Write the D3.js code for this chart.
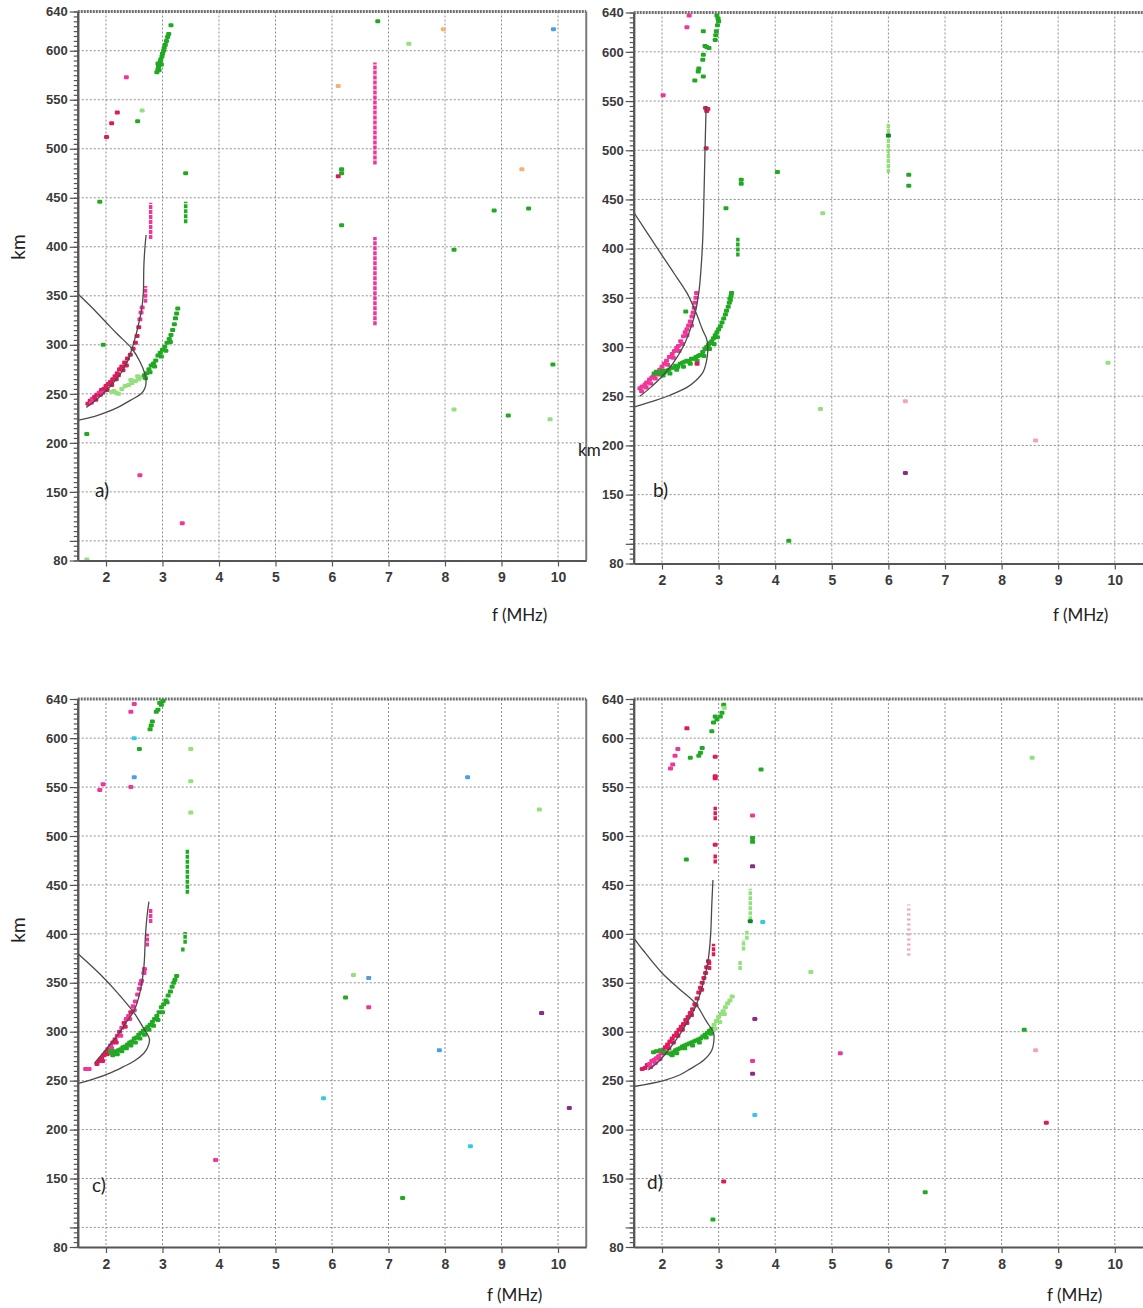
<!DOCTYPE html>
<html>
<head>
<meta charset="utf-8">
<script src="https://cdn.jsdelivr.net/npm/d3@7"></script>
<style>
	body { margin: 0; background: #fff; }
	svg { display: block; }
	.num { font-family: "Liberation Sans", Arial, sans-serif; font-weight: bold; fill: #3a3a3a; }
	.cap { font-family: Lato, "Open Sans", sans-serif; fill: #222; }
</style>
</head>
<body>
<div id="chart"></div>
<script>

// ---- data (f in MHz, height in km) ----
const fTicks = [2, 3, 4, 5, 6, 7, 8, 9, 10];
const kmLabels = [80, 150, 200, 250, 300, 350, 400, 450, 500, 550, 600, 640];
const kmGrid = [100, 150, 200, 250, 300, 350, 400, 450, 500, 550, 600];

// colour keys used by the echo points
const echoColors = {
	r: "#e01a5a", p: "#f0369a", g: "#1faa22", lg: "#93e07c", dg: "#15802a",
	c: "#36c9e6", b: "#4c9fe2", o: "#f3b27c", v: "#8a2d8a", lp: "#f4a2bd"
};

// panel a
const modelA = [[1.65,236],[1.85,245],[2.08,258],[2.25,270],[2.38,283],[2.46,296],[2.53,310],[2.58,322],[2.63,336],[2.66,352],[2.67,380],[2.69,400],[2.71,412]];
const profileA = [[1.5,352],[1.75,338],[2.0,323],[2.2,311],[2.46,296],[2.6,283],[2.69,270],[2.71,263],[2.69,256],[2.62,250],[2.45,244],[2.2,236],[2.0,231],[1.8,227],[1.5,223]];
const dotsA = [
	[1.68,240,"r"],[1.72,243,"r"],[1.76,245,"p"],[1.80,247,"r"],[1.84,249,"r"],[1.88,251,"p"],[1.92,254,"r"],[1.96,255,"r"],[2.00,258,"r"],[2.04,260,"r"],
	[2.08,262,"r"],[2.12,265,"r"],[2.16,268,"r"],[2.20,271,"r"],[2.24,275,"r"],[2.28,278,"r"],[2.33,282,"r"],[2.38,286,"r"],[2.43,290,"r"],[2.48,296,"r"],
	[2.52,302,"r"],[2.55,309,"r"],[2.58,318,"r"],[2.60,326,"p"],[2.62,333,"p"],[2.64,338,"p"],
	[1.74,241,"p"],[1.82,244,"r"],[1.90,249,"r"],[1.94,251,"p"],[2.02,254,"r"],[2.10,259,"r"],[2.18,265,"r"],[2.22,269,"r"],[2.30,274,"r"],[2.36,279,"r"],
	[2.10,252,"lg"],[2.14,253,"lg"],[2.18,251,"lg"],[2.22,250,"lg"],[2.28,255,"lg"],[2.34,258,"lg"],[2.40,259,"lg"],[2.46,261,"lg"],[2.52,263,"lg"],[2.58,265,"lg"],
	[2.63,267,"lg"],[2.68,269,"g"],[2.72,271,"g"],[2.76,275,"g"],[2.80,279,"g"],[2.84,281,"g"],[2.88,284,"g"],[2.92,289,"g"],[2.96,292,"g"],[3.00,295,"g"],
	[3.04,298,"g"],[3.08,302,"g"],[3.12,306,"g"],[3.15,310,"g"],[3.18,315,"g"],[3.21,321,"g"],[3.23,327,"g"],[3.25,332,"g"],[3.27,337,"g"],
	[2.44,264,"lg"],[2.56,268,"lg"],[2.70,266,"g"],[2.78,272,"g"],[2.86,278,"g"],[2.98,288,"g"],[3.06,294,"g"],[3.14,303,"g"],
	[2.90,578,"g"],[2.92,581,"g"],[2.93,584,"g"],[2.95,586,"g"],[2.96,589,"g"],[2.97,591,"g"],[2.99,594,"g"],[3.00,597,"g"],[3.02,600,"g"],[3.03,603,"g"],
	[3.05,606,"g"],[3.07,610,"g"],[3.09,614,"g"],[3.11,617,"g"],[3.15,626,"g"],[2.94,580,"g"],[2.98,586,"g"],[2.92,587,"g"],
	[2.36,573,"p"],[2.20,537,"r"],[2.10,526,"r"],[2.01,512,"r"],[2.64,539,"lg"],[2.56,528,"g"],[1.89,446,"g"],[3.41,475,"g"],
	[1.95,300,"g"],[1.66,209,"g"],[2.60,167,"p"],[3.35,118,"p"],[1.66,81,"lg"],
	[6.81,630,"g"],[7.97,622,"o"],[7.36,607,"lg"],[9.92,622,"b"],[6.11,564,"o"],[6.11,472,"r"],[6.17,479,"g"],[6.17,475,"g"],[6.17,422,"g"],
	[9.36,479,"o"],[8.87,437,"g"],[9.48,439,"g"],[8.16,397,"g"],[8.16,234,"lg"],[9.12,228,"g"],[9.86,224,"lg"],[9.91,280,"g"]
];
const streaksA = [[2.79,408,445,"p"],[2.70,343,360,"p"],[3.41,424,446,"g"],[6.76,484,588,"p"],[6.76,320,410,"p"]];

// panel b
const modelB = [[1.61,250],[1.8,259],[2.0,270],[2.2,284],[2.38,301],[2.5,318],[2.58,333],[2.65,355],[2.69,380],[2.72,410],[2.74,450],[2.76,500],[2.78,545]];
const profileB = [[1.5,437],[1.91,401],[2.2,376],[2.44,355],[2.6,335],[2.72,317],[2.79,308],[2.81,297],[2.78,284],[2.73,275],[2.6,266],[2.44,259],[2.14,251],[1.9,246],[1.5,239]];
const dotsB = [
	[1.61,258,"p"],[1.65,260,"p"],[1.70,262,"p"],[1.73,264,"p"],[1.78,267,"p"],[1.82,269,"p"],[1.85,270,"p"],[1.90,273,"p"],[1.96,277,"p"],[2.00,280,"p"],
	[2.04,283,"p"],[2.08,286,"p"],[2.13,290,"p"],[2.18,293,"p"],[2.22,296,"p"],[2.26,299,"p"],[2.29,301,"p"],[2.33,306,"p"],[2.38,311,"p"],[2.41,315,"p"],
	[2.44,318,"p"],[2.47,322,"p"],[2.50,326,"p"],[2.53,331,"p"],[2.55,335,"p"],[2.57,340,"p"],[2.58,345,"p"],[2.60,350,"p"],[2.61,355,"p"],
	[1.64,255,"p"],[1.72,259,"p"],[1.80,263,"p"],[1.88,268,"p"],[1.94,272,"p"],[2.02,276,"p"],[2.10,282,"p"],[2.20,289,"p"],[2.30,296,"p"],[2.36,303,"p"],
	[2.44,312,"p"],[2.52,322,"p"],
	[1.86,273,"g"],[1.90,275,"g"],[1.96,273,"g"],[2.00,276,"g"],[2.04,274,"g"],[2.08,276,"g"],[2.12,277,"g"],[2.16,279,"g"],[2.20,279,"g"],[2.24,281,"g"],
	[2.28,280,"g"],[2.32,283,"g"],[2.36,284,"g"],[2.40,285,"g"],[2.44,286,"g"],[2.48,285,"g"],[2.52,288,"g"],[2.56,288,"g"],[2.60,290,"g"],[2.64,291,"g"],
	[2.67,292,"g"],[2.72,295,"g"],[2.76,298,"g"],[2.79,300,"g"],[2.82,302,"g"],[2.85,304,"g"],[2.88,306,"g"],[2.91,309,"g"],[2.94,312,"g"],[2.97,315,"g"],
	[3.00,318,"g"],[3.03,321,"g"],[3.06,325,"g"],[3.09,329,"g"],[3.12,333,"g"],[3.14,337,"g"],[3.17,341,"g"],[3.19,345,"g"],[3.20,349,"g"],[3.22,352,"g"],[3.23,355,"g"],
	[2.02,271,"g"],[2.14,273,"g"],[2.26,277,"g"],[2.38,280,"g"],[2.50,283,"g"],[2.62,286,"g"],[2.74,291,"g"],[2.84,298,"g"],[2.92,303,"g"],[2.98,310,"g"],
	[2.62,283,"r"],
	[2.48,637,"p"],[2.44,625,"p"],[2.73,621,"g"],[2.97,637,"g"],[2.99,634,"g"],[3.00,631,"g"],[2.98,627,"g"],[2.96,621,"g"],[2.95,617,"g"],[2.94,612,"g"],
	[2.79,605,"g"],[2.83,604,"g"],[2.76,606,"g"],[2.73,597,"g"],[2.72,592,"g"],[2.65,583,"g"],[2.64,580,"g"],[2.58,571,"g"],[2.73,575,"g"],
	[2.02,556,"p"],[2.77,543,"r"],[2.79,540,"r"],[2.81,542,"r"],[2.78,502,"r"],[3.40,470,"g"],[3.40,466,"g"],[3.13,441,"g"],[4.04,478,"g"],[4.84,436,"lg"],
	[2.42,336,"g"],[4.80,237,"lg"],[4.24,103,"g"],[6.00,515,"dg"],[6.36,475,"g"],[6.36,464,"g"],[6.30,245,"lp"],[8.60,205,"lp"],[6.30,172,"v"],[9.88,284,"lg"]
];
const streaksB = [[3.34,392,411,"g"],[3.22,346,357,"g"],[6.00,477,528,"lg"]];

// panel c
const modelC = [[1.80,268],[2.0,282],[2.2,296],[2.35,309],[2.5,322],[2.6,340],[2.67,366],[2.70,400],[2.73,420],[2.76,433]];
const profileC = [[1.5,380],[1.91,358],[2.2,340],[2.5,319],[2.65,305],[2.77,292],[2.73,283],[2.67,278],[2.5,270],[2.3,264],[2.08,258],[1.8,252],[1.5,247]];
const dotsC = [
	[1.64,262,"p"],[1.70,262,"p"],[1.84,267,"r"],[1.88,270,"r"],[1.92,273,"r"],[1.96,276,"r"],[2.00,279,"r"],[2.04,282,"r"],[2.08,286,"p"],[2.12,289,"r"],
	[2.16,292,"r"],[2.20,296,"p"],[2.24,300,"r"],[2.28,304,"p"],[2.32,309,"r"],[2.36,313,"p"],[2.40,316,"p"],[2.44,320,"r"],[2.48,326,"p"],[2.52,331,"p"],
	[2.56,338,"p"],[2.59,344,"p"],[2.61,349,"p"],[2.63,352,"p"],[2.67,360,"p"],[2.68,364,"p"],
	[1.94,270,"r"],[2.02,277,"r"],[2.10,283,"p"],[2.18,289,"r"],[2.26,296,"p"],[2.34,305,"r"],[2.42,313,"p"],[2.50,322,"p"],
	[2.08,280,"g"],[2.10,278,"g"],[2.14,280,"g"],[2.18,279,"g"],[2.22,281,"g"],[2.26,282,"g"],[2.30,284,"g"],[2.34,285,"g"],[2.38,287,"g"],[2.42,289,"g"],
	[2.46,290,"g"],[2.50,293,"g"],[2.54,294,"g"],[2.58,297,"g"],[2.62,299,"g"],[2.66,301,"g"],[2.70,303,"g"],[2.74,305,"g"],[2.78,307,"g"],[2.82,310,"g"],
	[2.86,313,"g"],[2.90,316,"g"],[2.94,320,"g"],[2.98,325,"g"],[3.02,328,"g"],[3.06,332,"g"],[3.10,337,"g"],[3.14,341,"g"],[3.17,346,"g"],[3.20,350,"g"],
	[3.22,353,"g"],[3.25,357,"g"],
	[2.12,276,"g"],[2.20,277,"g"],[2.28,280,"g"],[2.36,283,"g"],[2.44,286,"g"],[2.52,289,"g"],[2.60,293,"g"],[2.68,297,"g"],[2.76,302,"g"],[2.84,306,"g"],
	[2.92,312,"g"],[3.00,320,"g"],[3.08,330,"g"],
	[2.50,635,"p"],[2.44,627,"p"],[2.95,636,"g"],[3.01,638,"g"],[2.98,634,"g"],[2.92,629,"g"],[2.89,627,"g"],[2.82,617,"g"],[2.80,613,"g"],[2.78,609,"g"],
	[2.50,600,"c"],[2.59,589,"g"],[1.95,553,"p"],[1.89,547,"p"],[2.50,560,"b"],[2.44,550,"p"],[3.50,589,"lg"],[3.50,556,"lg"],[3.50,524,"lg"],
	[3.94,169,"p"],[6.38,358,"lg"],[6.65,355,"b"],[6.24,335,"g"],[6.65,325,"p"],[9.67,527,"lg"],[8.40,560,"b"],[5.85,232,"c"],[7.90,281,"b"],
	[8.45,183,"c"],[9.71,319,"v"],[10.2,222,"v"],[7.25,130,"g"]
];
const streaksC = [[3.44,441,487,"g"],[3.40,390,402,"g"],[3.36,382,387,"g"],[2.79,411,426,"p"],[2.73,387,400,"p"],[2.68,358,365,"p"]];

// panel d
const modelD = [[1.76,261],[1.95,270],[2.15,284],[2.3,296],[2.45,310],[2.58,324],[2.68,340],[2.76,357],[2.82,375],[2.86,400],[2.88,430],[2.90,455]];
const profileD = [[1.5,396],[1.67,383],[2.0,360],[2.3,344],[2.59,329],[2.78,311],[2.91,299],[2.92,294],[2.88,281],[2.74,271],[2.5,262],[2.32,256],[2.03,250],[1.5,244]];
const dotsD = [
	[1.65,262,"r"],[1.70,263,"r"],[1.74,266,"r"],[1.78,267,"p"],[1.82,270,"p"],[1.86,271,"p"],[1.90,273,"p"],[1.94,275,"p"],[1.98,278,"p"],[2.02,281,"r"],
	[2.06,284,"r"],[2.10,287,"r"],[2.14,290,"r"],[2.18,293,"r"],[2.22,296,"r"],[2.26,299,"r"],[2.30,302,"r"],[2.34,305,"r"],[2.38,308,"r"],[2.42,312,"r"],
	[2.46,315,"r"],[2.50,319,"r"],[2.54,323,"r"],[2.58,328,"r"],[2.62,334,"r"],[2.65,340,"r"],[2.68,345,"r"],[2.71,350,"r"],[2.74,355,"r"],[2.77,360,"r"],
	[2.79,366,"r"],[2.82,372,"r"],
	[1.80,264,"p"],[1.88,268,"p"],[1.96,272,"p"],[2.04,278,"r"],[2.12,283,"r"],[2.20,289,"r"],[2.28,296,"r"],[2.36,302,"r"],[2.44,309,"r"],[2.52,317,"r"],
	[2.60,327,"r"],[2.70,343,"r"],
	[1.85,279,"g"],[1.90,280,"g"],[1.97,281,"g"],[2.05,279,"g"],[2.12,278,"g"],[2.16,277,"g"],[2.20,279,"g"],[2.24,281,"g"],[2.28,282,"g"],[2.32,283,"g"],
	[2.36,285,"g"],[2.40,286,"g"],[2.44,287,"g"],[2.48,288,"g"],[2.52,289,"g"],[2.56,290,"g"],[2.60,291,"g"],[2.64,292,"g"],[2.68,293,"g"],[2.72,295,"g"],
	[2.76,297,"g"],[2.80,299,"g"],[2.84,301,"g"],[2.88,303,"g"],[2.92,307,"lg"],[2.96,311,"lg"],[3.00,315,"lg"],[3.04,318,"lg"],[3.08,321,"lg"],[3.12,325,"lg"],
	[3.16,329,"lg"],[3.20,332,"lg"],[3.24,336,"lg"],
	[2.18,276,"g"],[2.26,278,"g"],[2.40,283,"g"],[2.54,286,"g"],[2.66,289,"g"],[2.78,294,"g"],[2.86,298,"g"],[2.94,303,"lg"],[3.02,310,"lg"],[3.10,318,"lg"],
	[2.44,610,"r"],[2.28,589,"p"],[2.23,582,"p"],[2.19,573,"p"],[2.15,569,"p"],[2.50,580,"g"],[2.65,582,"g"],[2.68,585,"g"],[2.71,590,"g"],
	[3.09,634,"g"],[3.06,626,"g"],[3.03,622,"g"],[2.97,619,"g"],[2.91,616,"g"],[2.94,622,"g"],[2.88,607,"g"],[3.10,631,"lg"],
	[2.94,581,"r"],[2.94,561,"r"],[2.94,559,"r"],[2.94,491,"r"],
	[3.75,568,"g"],[3.60,521,"p"],[3.60,498,"g"],[3.60,494,"g"],[3.60,469,"v"],[3.56,413,"dg"],[3.78,412,"c"],[2.43,476,"g"],[4.63,361,"lg"],
	[3.64,313,"v"],[3.60,270,"p"],[3.60,257,"v"],[3.64,215,"c"],[3.09,147,"r"],[2.90,108,"g"],[5.15,278,"p"],
	[8.54,580,"lg"],[8.40,302,"g"],[8.60,281,"lp"],[8.79,207,"r"],[6.65,136,"g"]
];
const streaksD = [[2.94,516,530,"r"],[2.94,472,481,"r"],[2.91,377,390,"r"],[2.84,363,373,"r"],[3.56,414,446,"lg"],[3.50,394,404,"lg"],[3.44,383,394,"lg"],[3.38,363,373,"lg"],[6.36,378,430,"lp"]];


// ---- layout ----
const W = 1143, H = 1308;

const svg = d3.select("#chart")
	.append("svg")
	.attr("width", W)
	.attr("height", H);

const panels = [
	{id:"a", label:"a)", x0:77.75, x1:586.25, yTop:11.5, yBot:560.5, border:true,
		model:modelA, profile:profileA, dots:dotsA, streaks:streaksA, letter:[95,497], fLab:[492,621], km:{x:25,y:247,rot:true}},
	{id:"b", label:"b)", x0:633.7, x1:1143.1, yTop:12.5, yBot:563.5, border:false,
		model:modelB, profile:profileB, dots:dotsB, streaks:streaksB, letter:[653,497], fLab:[1053,621], km:{x:578,y:456,rot:false}},
	{id:"c", label:"c)", x0:77.75, x1:586.25, yTop:699, yBot:1247, border:true,
		model:modelC, profile:profileC, dots:dotsC, streaks:streaksC, letter:[92,1192], fLab:[487,1301], km:{x:25,y:930,rot:true}},
	{id:"d", label:"d)", x0:633.7, x1:1143.1, yTop:699, yBot:1247, border:false,
		model:modelD, profile:profileD, dots:dotsD, streaks:streaksD, letter:[647,1189], fLab:[1047,1301], km:null}
];

panels.forEach(drawPanel);

function drawPanel(p){

	let x = d3.scaleLinear().domain([1.5, 10.5]).range([p.x0, p.x1]);
	let y = d3.scaleLinear().domain([80, 640]).range([p.yBot, p.yTop]);

	let g = svg.append("g").attr("class", "panel-" + p.id);

	//grid
	g.append("g").selectAll("line")
		.data(fTicks)
		.join("line")
		.attr("x1", d => x(d)).attr("x2", d => x(d))
		.attr("y1", p.yTop).attr("y2", p.yBot)
		.attr("stroke", "#8e8e8e").attr("stroke-width", 1)
		.attr("stroke-dasharray", "2,2");

	g.append("g").selectAll("line")
		.data(kmGrid)
		.join("line")
		.attr("x1", p.x0).attr("x2", p.x1)
		.attr("y1", d => y(d)).attr("y2", d => y(d))
		.attr("stroke", "#8e8e8e").attr("stroke-width", 1)
		.attr("stroke-dasharray", "2,2");

	//top border, thick dotted
	g.append("line")
		.attr("x1", p.x0).attr("x2", p.x1)
		.attr("y1", p.yTop).attr("y2", p.yTop)
		.attr("stroke", "#6e6e6e").attr("stroke-width", 3)
		.attr("stroke-dasharray", "2,1");

	if (p.border){
		g.append("line")
			.attr("x1", p.x1).attr("x2", p.x1)
			.attr("y1", p.yTop).attr("y2", p.yBot)
			.attr("stroke", "#7a7a7a").attr("stroke-width", 2);
	}

	//clip for marks
	g.append("clipPath").attr("id", "clip-" + p.id)
		.append("rect")
		.attr("x", p.x0).attr("y", p.yTop)
		.attr("width", p.x1 - p.x0).attr("height", p.yBot - p.yTop);

	let marks = g.append("g").attr("clip-path", "url(#clip-" + p.id + ")");

	//vertical streaks
	marks.append("g").selectAll("line")
		.data(p.streaks)
		.join("line")
		.attr("x1", d => x(d[0])).attr("x2", d => x(d[0]))
		.attr("y1", d => y(d[1])).attr("y2", d => y(d[2]))
		.attr("stroke", d => echoColors[d[3]])
		.attr("stroke-width", 3.5)
		.attr("stroke-dasharray", d => d[3] === "lp" ? "2,3" : "4,1");

	//echo points
	marks.append("g").selectAll("rect")
		.data(p.dots)
		.join("rect")
		.attr("x", d => x(d[0]) - 2.5)
		.attr("y", d => y(d[1]) - 2)
		.attr("width", 5).attr("height", 4)
		.attr("rx", 1.2)
		.attr("fill", d => echoColors[d[2]]);

	//profile curves
	let line = d3.line()
		.x(d => x(d[0]))
		.y(d => y(d[1]))
		.curve(d3.curveCatmullRom);

	marks.selectAll(".curve")
		.data([p.model, p.profile])
		.join("path")
		.attr("class", "curve")
		.attr("d", line)
		.attr("fill", "none")
		.attr("stroke", "#4b4b4b")
		.attr("stroke-width", 1.3);

	//axes
	let yMinor = d3.axisLeft(y)
		.tickValues(d3.range(80, 641, 5))
		.tickSize(4).tickSizeOuter(0)
		.tickFormat("");

	let yAxis = d3.axisLeft(y)
		.tickValues(kmLabels.concat([100]))
		.tickSize(8).tickSizeOuter(0)
		.tickFormat(d => d === 100 ? "" : d);

	let xAxis = d3.axisBottom(x)
		.tickValues(fTicks)
		.tickSize(6).tickSizeOuter(0);

	let gyMinor = g.append("g").attr("transform", `translate(${p.x0},0)`).call(yMinor);
	let gy = g.append("g").attr("transform", `translate(${p.x0},0)`).call(yAxis);
	let gx = g.append("g").attr("transform", `translate(0,${p.yBot})`).call(xAxis);

	[gyMinor, gy, gx].forEach(a => {
		a.select(".domain").attr("stroke", "#555").attr("stroke-width", 2);
		a.selectAll(".tick line").attr("stroke", "#555").attr("stroke-width", 1.2);
	});

	gy.selectAll(".tick text")
		.attr("class", "num")
		.attr("font-size", 13)
		.attr("x", -10);

	gx.selectAll(".tick text")
		.attr("class", "num")
		.attr("font-size", 14)
		.attr("dy", "0.9em");

	//labels
	g.append("text")
		.attr("class", "cap")
		.attr("x", p.letter[0]).attr("y", p.letter[1])
		.attr("font-size", 19)
		.text(p.label);

	g.append("text")
		.attr("class", "cap")
		.attr("x", p.fLab[0]).attr("y", p.fLab[1])
		.attr("font-size", 17)
		.text("f (MHz)");

	if (p.km){
		let k = g.append("text")
			.attr("class", "cap")
			.attr("font-size", p.km.rot ? 19 : 17)
			.text("km");
		if (p.km.rot){
			k.attr("transform", `translate(${p.km.x},${p.km.y}) rotate(-90)`)
				.attr("text-anchor", "middle");
		} else {
			k.attr("x", p.km.x).attr("y", p.km.y);
		}
	}
}

</script>
</body>
</html>
